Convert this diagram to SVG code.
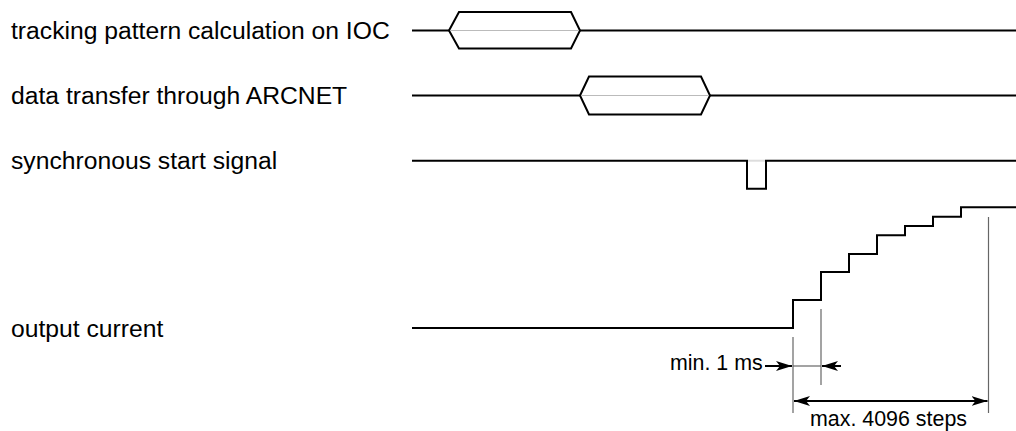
<svg xmlns="http://www.w3.org/2000/svg" width="1016" height="431" viewBox="0 0 1016 431">
<style>
.lbl{font-family:"Liberation Sans",Arial,sans-serif;font-size:24.7px;fill:#000}
.dim{font-family:"Liberation Sans",Arial,sans-serif;font-size:21.4px;fill:#000}
.sig{fill:none;stroke:#000;stroke-width:2;stroke-linejoin:miter}
.hex{fill:#fff;stroke:#000;stroke-width:2}
.mid{stroke:#bbb;stroke-width:1.2}
.ext{stroke:#666;stroke-width:1.2}
.arr{stroke:#000;stroke-width:2;fill:none}
</style>
<defs>
<marker id="ah" viewBox="0 0 16 10" refX="16" refY="5" markerWidth="16" markerHeight="10" markerUnits="userSpaceOnUse" orient="auto-start-reverse">
<path d="M0,0 L16,5 L0,10 L4,5 Z" fill="#000"/>
</marker>
</defs>
<rect width="1016" height="431" fill="#fff"/>
<g id="row-tracking">
<text class="lbl" x="11" y="39.3">tracking pattern calculation on IOC</text>
<line class="sig" x1="412" y1="30.5" x2="1016" y2="30.5"/>
<polygon class="hex" points="449,30.5 459,12 571,12 580,30.5 571,48.5 459,48.5"/>
<line class="mid" x1="450" y1="30.5" x2="579" y2="30.5"/>
</g>
<g id="row-transfer">
<text class="lbl" x="11" y="104.3">data transfer through ARCNET</text>
<line class="sig" x1="412" y1="95.5" x2="1016" y2="95.5"/>
<polygon class="hex" points="580,95.5 589,76.5 701,76.5 710,95.5 701,114.5 589,114.5"/>
<line class="mid" x1="581" y1="95.5" x2="709" y2="95.5"/>
</g>
<g id="row-sync">
<text class="lbl" x="11" y="169.3">synchronous start signal</text>
<polyline class="sig" points="412,160.7 747,160.7 747,188.7 766,188.7 766,160.7 1016,160.7"/>
<line stroke="#ddd" stroke-width="2" x1="748" y1="160.7" x2="765" y2="160.7"/>
</g>
<g id="row-output">
<text class="lbl" x="11" y="337">output current</text>
<polyline class="sig" points="412,328 793,328 793,300 821,300 821,272 849,272 849,254 877,254 877,235.3 905,235.3 905,226 933,226 933,216.7 961,216.7 961,207.3 1016,207.3"/>
</g>
<g id="connectors">
<line class="ext" x1="793" y1="337" x2="793" y2="413"/>
<line class="ext" x1="821" y1="309" x2="821" y2="385"/>
<line class="ext" x1="988.5" y1="217" x2="988.5" y2="413"/>
<line class="ext" x1="793" y1="366" x2="821" y2="366"/>
<line class="arr" x1="765" y1="366" x2="792" y2="366" marker-end="url(#ah)"/>
<line class="arr" x1="841" y1="366" x2="822" y2="366" marker-end="url(#ah)"/>
<line class="arr" x1="794" y1="401" x2="987.5" y2="401" marker-start="url(#ah)" marker-end="url(#ah)"/>
<text class="dim" x="670" y="369.5">min. 1 ms</text>
<text class="dim" x="888.5" y="425.5" text-anchor="middle">max. 4096 steps</text>
</g>
</svg>
